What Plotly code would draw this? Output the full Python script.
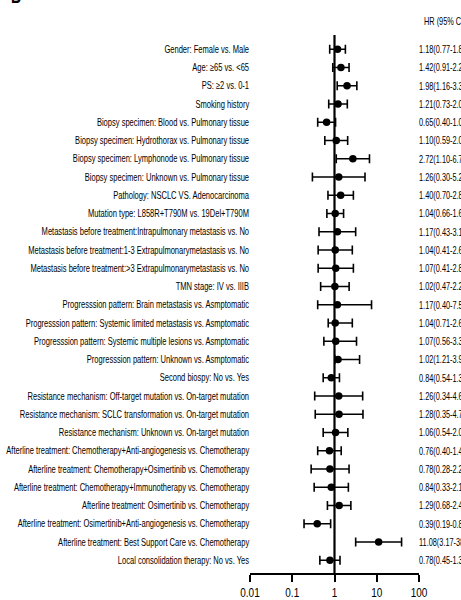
import plotly.graph_objects as go

# Subgroup comparisons (top to bottom)
labels = [
    "Gender: Female vs. Male",
    "Age: ≥65 vs. <65",
    "PS: ≥2 vs. 0-1",
    "Smoking history",
    "Biopsy specimen: Blood vs. Pulmonary tissue",
    "Biopsy specimen: Hydrothorax vs. Pulmonary tissue",
    "Biopsy specimen: Lymphonode vs. Pulmonary tissue",
    "Biopsy specimen: Unknown vs. Pulmonary tissue",
    "Pathology: NSCLC VS. Adenocarcinoma",
    "Mutation type: L858R+T790M vs. 19Del+T790M",
    "Metastasis before treatment:Intrapulmonary metastasis vs. No",
    "Metastasis before treatment:1-3 Extrapulmonarymetastasis vs. No",
    "Metastasis before treatment:>3 Extrapulmonarymetastasis vs. No",
    "TMN stage: IV vs. IIIB",
    "Progresssion pattern: Brain metastasis vs. Asmptomatic",
    "Progresssion pattern: Systemic limited metastasis vs. Asmptomatic",
    "Progresssion pattern: Systemic multiple lesions vs. Asmptomatic",
    "Progresssion pattern: Unknown vs. Asmptomatic",
    "Second biospy: No vs. Yes",
    "Resistance mechanism: Off-target mutation vs. On-target mutation",
    "Resistance mechanism: SCLC transformation vs. On-target mutation",
    "Resistance mechanism: Unknown vs. On-target mutation",
    "Afterline treatment: Chemotherapy+Anti-angiogenesis vs. Chemotherapy",
    "Afterline treatment: Chemotherapy+Osimertinib vs. Chemotherapy",
    "Afterline treatment: Chemotherapy+Immunotherapy vs. Chemotherapy",
    "Afterline treatment: Osimertinib vs. Chemotherapy",
    "Afterline treatment: Osimertinib+Anti-angiogenesis vs. Chemotherapy",
    "Afterline treatment: Best Support Care vs. Chemotherapy",
    "Local consolidation therapy: No vs. Yes",
]

# Hazard ratios with 95% CI bounds
hr = [1.18, 1.42, 1.98, 1.21, 0.65, 1.10, 2.72, 1.26, 1.40, 1.04,
      1.17, 1.04, 1.07, 1.02, 1.17, 1.04, 1.07, 1.21, 0.84, 1.26,
      1.28, 1.06, 0.76, 0.78, 0.84, 1.29, 0.39, 11.08, 0.78]
ci_low = [0.77, 0.91, 1.16, 0.73, 0.40, 0.59, 1.10, 0.30, 0.70, 0.66,
          0.43, 0.41, 0.41, 0.47, 0.40, 0.71, 0.56, 1.02, 0.54, 0.34,
          0.35, 0.54, 0.40, 0.28, 0.33, 0.68, 0.19, 3.17, 0.45]
ci_high = [1.81, 2.21, 3.38, 2.01, 1.06, 2.05, 6.73, 5.27, 2.80, 1.64,
           3.17, 2.64, 2.80, 2.22, 7.53, 2.64, 3.32, 3.92, 1.31, 4.64,
           4.72, 2.07, 1.44, 2.21, 2.13, 2.44, 0.81, 38.72, 1.35]

# Text column on the right
hr_text = [
    "1.18(0.77-1.81)", "1.42(0.91-2.21)", "1.98(1.16-3.38)", "1.21(0.73-2.01)",
    "0.65(0.40-1.06)", "1.10(0.59-2.05)", "2.72(1.10-6.73)", "1.26(0.30-5.27)",
    "1.40(0.70-2.80)", "1.04(0.66-1.64)", "1.17(0.43-3.17)", "1.04(0.41-2.64)",
    "1.07(0.41-2.80)", "1.02(0.47-2.22)", "1.17(0.40-7.53)", "1.04(0.71-2.64)",
    "1.07(0.56-3.32)", "1.02(1.21-3.92)", "0.84(0.54-1.31)", "1.26(0.34-4.64)",
    "1.28(0.35-4.72)", "1.06(0.54-2.07)", "0.76(0.40-1.44)", "0.78(0.28-2.21)",
    "0.84(0.33-2.13)", "1.29(0.68-2.44)", "0.39(0.19-0.81)", "11.08(3.17-38.72)",
    "0.78(0.45-1.35)",
]

x_ticks = [0.01, 0.1, 1, 10, 100]
x_ticktext = ["0.01", "0.1", "1", "10", "100"]

FONT = "Liberation Sans, Arial, sans-serif"

rows = list(range(len(labels)))

fig = go.Figure()
fig.add_trace(go.Scatter(
    x=hr, y=rows, mode="markers",
    marker=dict(symbol="circle", size=7.5, color="black"),
    error_x=dict(
        type="data", symmetric=False,
        array=[h - m for h, m in zip(ci_high, hr)],
        arrayminus=[m - l for m, l in zip(hr, ci_low)],
        color="black", thickness=1.6, width=4.5,
    ),
    showlegend=False, cliponaxis=False,
))

# Reference line at HR = 1
fig.add_shape(type="line", xref="x", yref="paper", x0=1, x1=1, y0=0, y1=1,
              line=dict(color="black", width=2.2), layer="below")

annotations = []
for i, t in enumerate(hr_text):
    annotations.append(dict(text=t, xref="paper", yref="y", x=0.994, y=i,
                            xanchor="left", yanchor="middle", showarrow=False,
                            borderpad=0,
                            font=dict(family=FONT, size=10.5, color="black")))
annotations.append(dict(text="HR (95% CI)", xref="paper", yref="paper",
                        x=1.024, y=1.026, xanchor="left", yanchor="middle",
                        showarrow=False, borderpad=0,
                        font=dict(family=FONT, size=10.5, color="black")))
annotations.append(dict(text="<b>B</b>", xref="paper", yref="paper",
                        x=-1.42, y=1.05, xanchor="left", yanchor="bottom",
                        showarrow=False, borderpad=0,
                        font=dict(family=FONT, size=20, color="black")))

fig.update_layout(
    width=461, height=600,
    margin=dict(l=250, r=42, t=35, b=27),
    paper_bgcolor="white", plot_bgcolor="white",
    font=dict(family=FONT, color="black"),
    annotations=annotations,
    xaxis=dict(
        type="log", range=[-2, 2], automargin=False,
        tickvals=x_ticks, ticktext=x_ticktext, tickangle=0,
        ticks="outside", ticklen=7, tickwidth=2, tickcolor="black",
        showline=True, linewidth=2, linecolor="black",
        showgrid=False, zeroline=False,
        tickfont=dict(family=FONT, size=12.5, color="black"),
    ),
    yaxis=dict(
        range=[28.7, -0.78], automargin=False,
        tickvals=rows, ticktext=labels,
        ticks="", showline=False, showgrid=False, zeroline=False,
        tickfont=dict(family=FONT, size=10.5, color="black"),
    ),
)

# Condensed lettering: squeeze text horizontally about its anchored edge
condense_js = """
var gd = document.getElementById('{plot_id}');
function squeeze(sel, s, pivot) {
  gd.querySelectorAll(sel).forEach(function (t) {
    if (t.getAttribute('data-sq')) return;
    var b = t.getBBox();
    var px = pivot === 'left' ? b.x : (pivot === 'right' ? b.x + b.width : b.x + b.width / 2);
    var tr = t.getAttribute('transform') || '';
    t.setAttribute('transform', tr + ' translate(' + px + ',0) scale(' + s + ',1) translate(' + (-px) + ',0)');
    t.setAttribute('data-sq', '1');
  });
}
function condense() {
  squeeze('.ytick text', 0.72, 'right');
  squeeze('.xtick text', 0.8, 'center');
  squeeze('.annotation-text', 0.7, 'left');
}
condense();
gd.on('plotly_afterplot', condense);
"""

fig.write_html("out.html", post_script=condense_js)
